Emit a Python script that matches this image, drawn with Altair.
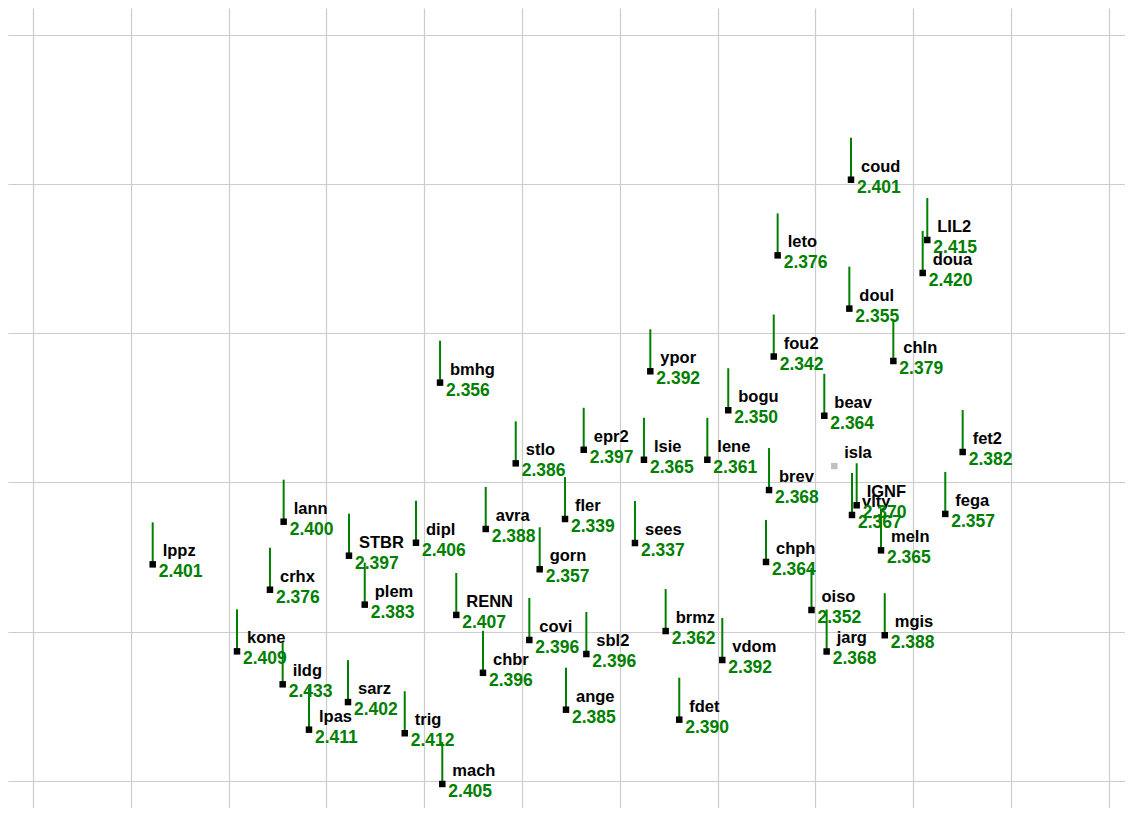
import altair as alt
import pandas as pd

# station names
names = ["lppz", "lann", "crhx", "STBR", "plem", "dipl", "bmhg", "avra", "RENN", "kone",
         "ildg", "lpas", "sarz", "trig", "mach", "chbr", "stlo", "epr2", "lsie", "lene",
         "ypor", "fler", "gorn", "covi", "sbl2", "ange", "sees", "brmz", "vdom", "fdet",
         "bogu", "fou2", "brev", "chph", "beav", "leto", "coud", "doul", "LIL2", "doua",
         "chln", "isla", "IGNF", "vlty", "fega", "fet2", "meln", "oiso", "jarg", "mgis"]

# easting (grid units)
east = [1.224, 2.563, 2.423, 3.231, 3.392, 3.916, 4.162, 4.629, 4.328, 2.086,
        2.553, 2.822, 3.221, 3.801, 4.185, 4.601, 4.936, 5.631, 6.247, 6.895,
        6.312, 5.440, 5.181, 5.075, 5.658, 5.450, 6.155, 6.469, 7.048, 6.608,
        7.109, 7.574, 7.526, 7.495, 8.091, 7.614, 8.364, 8.347, 9.144, 9.097,
        8.797, 8.193, 8.422, 8.374, 9.328, 9.506, 8.671, 7.960, 8.115, 8.709]

# northing (grid units)
north = [1.450, 1.736, 1.280, 1.508, 1.180, 1.595, 2.668, 1.687, 1.111, 0.867,
         0.646, 0.342, 0.527, 0.318, -0.022, 0.723, 2.127, 2.218, 2.151, 2.151,
         2.744, 1.754, 1.417, 0.943, 0.849, 0.476, 1.593, 1.003, 0.809, 0.409,
         2.483, 2.843, 1.948, 1.466, 2.446, 3.521, 4.028, 3.164, 3.624, 3.403,
         2.813, 2.109, 1.846, 1.781, 1.788, 2.203, 1.544, 1.144, 0.866, 0.975]

# measured values (isla has none)
values = ["2.401", "2.400", "2.376", "2.397", "2.383", "2.406", "2.356", "2.388", "2.407", "2.409",
          "2.433", "2.411", "2.402", "2.412", "2.405", "2.396", "2.386", "2.397", "2.365", "2.361",
          "2.392", "2.339", "2.357", "2.396", "2.396", "2.385", "2.337", "2.362", "2.392", "2.390",
          "2.350", "2.342", "2.368", "2.364", "2.364", "2.376", "2.401", "2.355", "2.415", "2.420",
          "2.379", None, "2.370", "2.367", "2.357", "2.382", "2.365", "2.352", "2.368", "2.388"]

grid_x = list(range(0, 12))
grid_y = list(range(0, 6))

df = pd.DataFrame({"name": names, "east": east, "north": north, "value": values})
df["has"] = df["value"].notna()

W, H = 1117, 800
x_scale = alt.Scale(domain=[-0.2556, -0.2556 + W / 97.8], nice=False, zero=False)
y_top = (780.7 - 8) / 149.2
y_scale = alt.Scale(domain=[y_top - H / 149.2, y_top], nice=False, zero=False)

x_axis = alt.Axis(values=grid_x, grid=True, labels=False, ticks=False, domain=False,
                  title=None, gridColor="#cccccc", gridWidth=1.2, gridOpacity=1)
y_axis = alt.Axis(values=grid_y, grid=True, labels=False, ticks=False, domain=False,
                  title=None, gridColor="#cccccc", gridWidth=1.2, gridOpacity=1)

base = alt.Chart(df).encode(
    x=alt.X("east:Q", scale=x_scale, axis=x_axis),
    y=alt.Y("north:Q", scale=y_scale, axis=y_axis),
)

name_text = base.mark_text(
    align="left", baseline="alphabetic", dx=10, dy=-8,
    font="Liberation Sans", fontWeight="bold", fontSize=16.5, color="#000000"
).encode(text="name:N")

value_text = base.transform_filter("datum.has").mark_text(
    align="left", baseline="alphabetic", dx=6, dy=13,
    font="Liberation Sans", fontWeight="bold", fontSize=17.5, color="#008000"
).encode(text="value:N")

stems = base.transform_filter("datum.has").mark_rule(
    color="#008000", strokeWidth=2, y2Offset=-42
).encode(y2="north:Q")

squares = base.mark_square(size=42, opacity=1, filled=True).encode(
    color=alt.condition("datum.has", alt.value("#000000"), alt.value("#c0c0c0"))
)

chart = alt.layer(name_text, value_text, stems, squares).properties(
    width=W, height=H, padding=0, autosize=alt.AutoSizeParams(type="none")
).configure_view(strokeWidth=0)

chart.save("out.html", embed_options={"renderer": "svg", "actions": False})
